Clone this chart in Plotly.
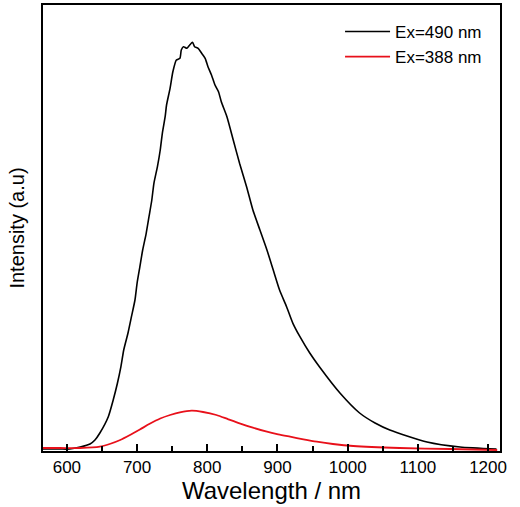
import plotly.graph_objects as go

# Ex = 490 nm emission spectrum (wavelength nm, intensity a.u.)
wl_490 = [566, 590, 604, 619, 633, 640, 647, 659, 666, 672, 677, 681, 687, 692, 697,
          700, 704, 708, 713, 717, 721, 724, 729, 733, 736, 740, 742, 747, 751, 756,
          761, 763, 766, 771, 775, 779, 782, 787, 792, 797, 801, 806, 811, 816, 820,
          828, 837, 846, 856, 865, 875, 885, 894, 903, 913, 922, 932, 946, 960, 989,
          1017, 1039, 1060, 1113, 1160, 1212]
int_490 = [10, 10, 10, 30, 60, 100, 170, 333, 500, 667, 833, 1000, 1167, 1333, 1500,
           1667, 1833, 2000, 2167, 2333, 2500, 2667, 2833, 3000, 3167, 3333, 3450, 3617, 3783, 3900,
           3917, 4000, 4033, 4017, 4050, 4077, 4033, 4017, 3967, 3917, 3833, 3750, 3650, 3583, 3483,
           3333, 3100, 2867, 2633, 2400, 2200, 2000, 1800, 1600, 1433, 1267, 1133, 970, 830, 570,
           370, 270, 200, 80, 30, 10]

# Ex = 388 nm emission spectrum
wl_388 = [566, 590, 619, 647, 661, 676, 690, 704, 718, 733, 747, 761, 778, 794, 813,
          830, 846, 865, 885, 901, 918, 937, 956, 979, 1008, 1074, 1146, 1213]
int_388 = [20, 20, 20, 33, 60, 100, 150, 205, 262, 315, 350, 377, 393, 380, 350,
           307, 267, 223, 183, 157, 133, 107, 83, 60, 40, 20, 10, 0]

x_ticks = [600, 700, 800, 900, 1000, 1100, 1200]

fig = go.Figure()
fig.add_trace(go.Scatter(x=wl_490, y=int_490, mode="lines", name="Ex=490 nm",
                         line=dict(color="black", width=1.6, shape="spline", smoothing=0.6)))
fig.add_trace(go.Scatter(x=wl_388, y=int_388, mode="lines", name="Ex=388 nm",
                         line=dict(color="#e8101a", width=1.8, shape="spline", smoothing=0.8)))

fig.update_layout(
    width=520, height=507,
    margin=dict(l=43, r=20, t=5, b=56, autoexpand=False),
    paper_bgcolor="white", plot_bgcolor="white",
    font=dict(family="Liberation Sans, Arial, sans-serif", color="black"),
    showlegend=True,
    legend=dict(x=0.65, y=0.98, xanchor="left", yanchor="top", itemwidth=45,
                bgcolor="rgba(0,0,0,0)", font=dict(size=17), tracegroupgap=0),
    xaxis=dict(range=[566, 1217], tickvals=x_ticks, ticks="inside", ticklen=7,
               tickwidth=1.5, tickcolor="black", automargin=False,
               minor=dict(dtick=50, tick0=550, ticks="inside", ticklen=5, tickwidth=1.5, tickcolor="black"),
               showline=True, linecolor="black", linewidth=2, mirror=True,
               showgrid=False, zeroline=False, tickfont=dict(size=17),
               title=dict(text="Wavelength / nm", font=dict(size=24), standoff=6)),
    yaxis=dict(range=[-10, 4450], showticklabels=False, ticks="", automargin=False,
               showline=True, linecolor="black", linewidth=2, mirror=True,
               showgrid=False, zeroline=False,
               title=dict(text="Intensity (a.u)", font=dict(size=20), standoff=11)),
)

fig.write_html("out.html", config={"displayModeBar": False},
               post_script="document.body.style.margin='0';document.body.style.padding='0';")
